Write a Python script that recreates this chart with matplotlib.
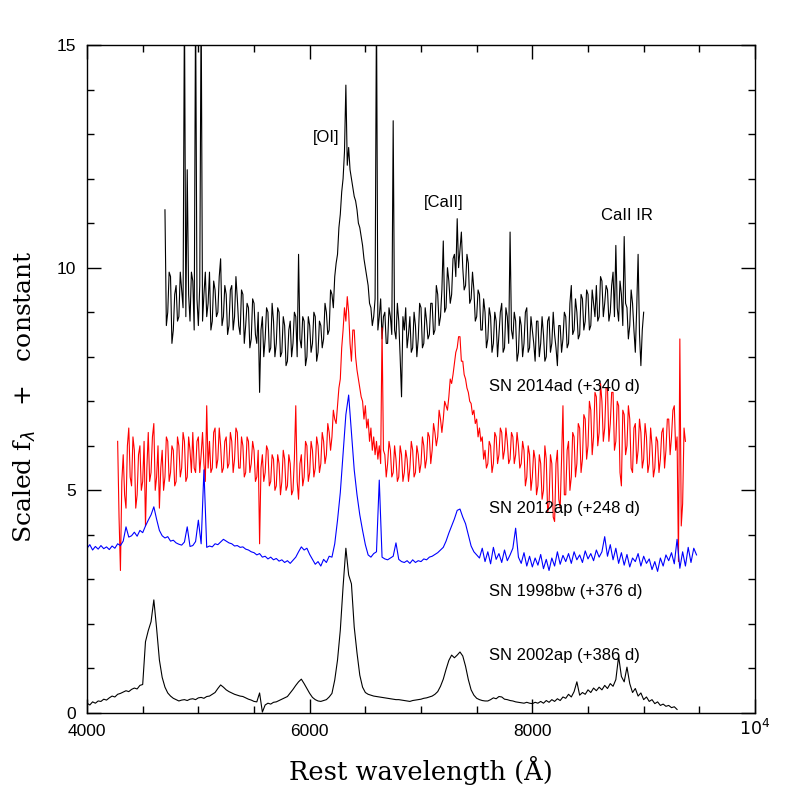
import numpy as np
import matplotlib
matplotlib.use('Agg')
import matplotlib.pyplot as plt
from matplotlib.ticker import MultipleLocator, FixedLocator, FixedFormatter
import matplotlib.transforms as mtransforms

start_2014ad, step_2014ad = 4700, 12.5
flux_2014ad = [
    11.3, 8.7, 9.0, 9.9, 9.8, 8.3, 8.6, 9.4, 9.6, 8.8, 8.9, 9.9, 9.5, 9.1, 16.0, 8.9,      # 4700
    12.2, 9.4, 8.8, 9.9, 9.7, 8.6, 16.0, 9.3, 8.7, 9.6, 16.0, 8.8, 9.4, 9.9, 8.9, 9.2,     # 4900
    9.9, 8.6, 8.8, 9.7, 9.5, 8.9, 9.0, 9.8, 10.2, 8.7, 8.9, 9.6, 9.4, 8.5, 8.7, 9.5,       # 5100
    9.6, 8.6, 8.9, 9.8, 9.3, 8.7, 8.5, 9.5, 9.4, 8.3, 8.7, 9.2, 9.1, 8.2, 8.4, 9.3,        # 5300
    9.2, 8.5, 8.3, 9.0, 7.2, 8.6, 8.9, 8.0, 8.4, 9.1, 9.0, 8.1, 8.2, 9.2, 8.8, 8.0,        # 5500
    8.3, 9.1, 9.0, 8.0, 8.1, 8.9, 8.7, 7.8, 7.9, 8.6, 8.8, 8.0, 8.3, 9.0, 8.9, 8.0,        # 5700
    10.3, 8.4, 8.2, 8.9, 8.8, 7.8, 8.0, 8.9, 8.7, 8.1, 8.3, 9.0, 8.9, 7.9, 8.1, 8.8,       # 5900
    8.7, 8.2, 8.4, 9.2, 9.0, 8.5, 8.6, 9.5, 9.4, 9.1, 9.8, 10.1, 10.3, 10.9, 11.2, 11.7,   # 6100
    12.0, 12.6, 14.1, 12.3, 12.7, 12.2, 12.0, 11.8, 11.6, 11.5, 11.3, 11.0, 10.9, 10.7, 10.5, 10.2,  # 6300
    10.0, 9.8, 9.6, 9.2, 9.1, 8.7, 8.9, 9.3, 16.0, 8.6, 8.9, 9.3, 8.4, 8.9, 9.0, 8.3,      # 6500
    8.3, 9.1, 8.9, 8.5, 13.3, 8.6, 8.4, 9.2, 8.8, 8.0, 7.1, 8.9, 8.6, 9.1, 8.2, 8.5,       # 6700
    8.9, 8.1, 8.2, 9.0, 8.7, 8.0, 8.4, 9.2, 9.1, 8.2, 8.3, 9.1, 8.8, 8.4, 8.5, 9.2,        # 6900
    9.2, 8.5, 8.6, 9.6, 9.4, 8.7, 8.9, 9.5, 10.6, 9.0, 9.1, 10.0, 9.7, 9.2, 9.4, 10.2,     # 7100
    10.3, 9.8, 11.1, 10.0, 10.4, 10.8, 10.0, 9.5, 9.6, 10.3, 10.1, 9.2, 9.3, 9.9, 9.5, 8.8,  # 7300
    8.9, 9.5, 9.4, 8.6, 8.6, 9.3, 9.0, 8.2, 8.4, 9.1, 8.9, 8.1, 8.3, 9.0, 8.8, 8.0,        # 7500
    8.5, 9.0, 9.2, 8.1, 8.2, 9.1, 8.9, 8.3, 10.8, 8.6, 8.4, 9.0, 8.8, 7.9, 8.1, 8.9,       # 7700
    8.7, 8.0, 8.3, 9.0, 9.1, 8.1, 8.2, 8.9, 8.6, 8.3, 7.9, 8.8, 8.8, 8.0, 8.3, 8.9,        # 7900
    8.5, 7.9, 8.0, 8.8, 8.9, 8.1, 8.3, 9.0, 8.5, 8.2, 7.8, 8.7, 8.7, 8.1, 8.4, 9.0,        # 8100
    8.9, 8.2, 8.3, 9.2, 9.6, 8.5, 8.6, 9.3, 9.0, 8.4, 8.5, 9.4, 9.3, 8.6, 8.8, 9.5,        # 8300
    9.4, 8.6, 8.7, 9.5, 9.2, 8.9, 9.6, 8.8, 8.9, 9.8, 9.7, 8.9, 9.2, 9.6, 9.5, 8.8,        # 8500
    9.0, 9.6, 9.9, 8.9, 10.5, 9.1, 8.8, 9.7, 9.4, 8.7, 10.7, 9.2, 9.1, 8.4, 8.7, 9.5,      # 8700
    9.2, 8.6, 8.1, 9.1, 10.3, 8.5, 7.8, 8.6, 9.0,                                          # 8900
]

start_2012ap, step_2012ap = 4275, 12.5
flux_2012ap = [
    6.1, 4.4, 3.2, 5.2, 5.8, 4.9, 4.6, 6.0, 6.4, 5.3, 5.1, 6.2, 5.9, 4.6, 4.9, 5.8,   # 4275
    6.0, 5.0, 5.2, 6.1, 4.2, 5.5, 6.3, 5.2, 5.4, 6.2, 6.5, 5.0, 5.3, 6.0, 4.6, 5.5,   # 4475
    5.9, 5.0, 5.3, 6.2, 6.1, 5.2, 5.4, 6.0, 5.9, 5.1, 5.2, 6.2, 6.0, 5.3, 5.5, 6.3,   # 4675
    6.1, 5.2, 5.3, 6.2, 5.9, 5.4, 6.3, 5.5, 5.4, 6.1, 6.2, 5.4, 5.8, 6.3, 5.6, 5.2,   # 4875
    6.9, 5.5, 6.1, 5.4, 5.5, 6.3, 6.4, 5.5, 5.7, 6.4, 6.0, 5.4, 5.5, 6.1, 6.2, 5.5,   # 5075
    5.6, 6.3, 6.1, 5.4, 5.7, 6.4, 6.3, 5.5, 5.5, 6.2, 6.0, 5.3, 5.4, 6.2, 6.1, 5.4,   # 5275
    5.6, 6.1, 5.9, 5.2, 5.3, 5.9, 3.8, 5.5, 5.8, 5.2, 5.4, 6.0, 5.9, 5.1, 5.2, 5.8,   # 5475
    5.7, 5.0, 5.1, 5.8, 5.6, 4.9, 5.2, 5.9, 5.7, 5.0, 5.1, 5.8, 5.6, 4.9, 5.0, 5.7,   # 5675
    6.9, 5.2, 4.8, 5.6, 5.8, 5.1, 5.3, 6.1, 6.0, 5.2, 5.4, 6.1, 5.9, 5.3, 5.5, 6.2,   # 5875
    6.0, 5.4, 5.6, 6.3, 6.1, 5.6, 5.8, 6.5, 6.3, 5.9, 6.2, 6.8, 6.6, 6.5, 6.9, 7.3,   # 6075
    7.5, 8.2, 8.6, 9.1, 8.8, 9.35, 9.0, 8.3, 7.9, 8.6, 8.6, 8.0, 7.7, 7.5, 7.3, 7.1,  # 6275
    7.0, 6.6, 6.9, 6.4, 6.6, 6.1, 6.4, 5.9, 6.2, 5.8, 6.1, 5.7, 6.0, 5.6, 8.65, 5.9,  # 6475
    5.8, 5.3, 5.6, 6.1, 5.9, 5.3, 5.4, 6.0, 5.7, 5.2, 5.3, 6.0, 5.8, 5.2, 5.4, 5.9,   # 6675
    5.7, 5.2, 5.5, 6.1, 5.9, 5.3, 5.4, 6.0, 5.8, 5.4, 5.6, 6.2, 6.0, 5.5, 5.7, 6.3,   # 6875
    6.2, 5.6, 5.9, 6.5, 6.3, 6.0, 6.2, 6.8, 6.6, 6.3, 6.6, 7.0, 6.9, 6.8, 7.1, 7.5,   # 7075
    7.4, 7.6, 7.85, 8.1, 8.2, 8.45, 8.45, 7.9, 7.9, 7.6, 7.5, 7.3, 7.2, 7.0, 6.95, 6.7,  # 7275
    6.8, 6.5, 6.6, 6.2, 6.4, 6.1, 6.2, 5.7, 5.9, 5.5, 5.6, 6.1, 6.0, 5.4, 5.6, 6.3,   # 7475
    6.2, 5.6, 5.8, 6.4, 6.3, 5.7, 5.9, 6.4, 6.1, 5.6, 5.7, 6.3, 6.2, 5.6, 5.8, 6.3,   # 7675
    6.0, 5.5, 5.6, 6.1, 5.9, 5.1, 5.3, 6.0, 5.8, 5.0, 5.3, 5.9, 5.7, 4.9, 5.1, 5.8,   # 7875
    5.6, 4.8, 5.0, 6.0, 5.7, 4.5, 4.7, 5.8, 5.6, 4.4, 4.3, 5.6, 5.9, 4.8, 4.6, 5.7,   # 8075
    6.9, 4.9, 4.9, 5.9, 6.1, 5.0, 5.3, 6.3, 6.2, 5.3, 5.6, 6.5, 6.4, 5.4, 5.7, 6.7,   # 8275
    6.6, 5.7, 6.0, 7.0, 6.8, 5.8, 6.2, 7.2, 7.1, 6.0, 6.3, 7.4, 7.0, 6.1, 6.4, 7.3,   # 8475
    7.3, 6.1, 6.5, 7.2, 7.2, 5.9, 6.1, 7.0, 6.9, 5.4, 5.1, 6.8, 6.7, 5.8, 6.0, 6.9,   # 8675
    6.6, 5.5, 5.4, 6.4, 6.5, 5.6, 5.9, 6.6, 6.3, 5.5, 5.7, 6.5, 6.2, 5.4, 5.6, 6.4,   # 8875
    6.0, 5.3, 5.5, 6.2, 6.1, 5.4, 5.7, 6.3, 6.4, 5.5, 5.9, 6.6, 6.6, 5.8, 6.2, 6.8,   # 9075
    6.9, 5.9, 6.2, 3.4, 8.4, 4.2, 4.7, 6.4, 6.1,                                      # 9275
]

start_1998bw, step_1998bw = 4000, 25
flux_1998bw = [
    3.70, 3.78, 3.66, 3.74, 3.68, 3.76, 3.69, 3.73,   # 4000
    3.67, 3.75, 3.70, 3.80, 3.76, 3.86, 4.18, 3.95,   # 4200
    3.98, 4.06, 3.97, 4.10, 4.05, 4.20, 4.33, 4.45,   # 4400
    4.63, 4.35, 4.10, 3.98, 3.93, 3.96, 3.86, 3.88,   # 4600
    3.82, 3.79, 3.77, 3.84, 4.18, 3.74, 3.76, 3.85,   # 4800
    4.33, 3.80, 5.46, 3.72, 3.75, 3.73, 3.80, 3.78,   # 5000
    3.84, 3.90, 3.86, 3.82, 3.80, 3.75, 3.76, 3.72,   # 5200
    3.73, 3.68, 3.66, 3.62, 3.60, 3.55, 3.58, 3.50,   # 5400
    3.52, 3.46, 3.50, 3.44, 3.47, 3.41, 3.44, 3.38,   # 5600
    3.42, 3.36, 3.43, 3.50, 3.62, 3.73, 3.66, 3.70,   # 5800
    3.56, 3.45, 3.34, 3.40, 3.30, 3.45, 3.38, 3.52,   # 6000
    3.50, 3.80, 4.33, 4.95, 5.83, 6.70, 7.14, 6.30,   # 6200
    5.46, 4.90, 4.45, 4.10, 3.78, 3.55, 3.50, 3.58,   # 6400
    3.62, 5.23, 3.50, 3.46, 3.44, 3.48, 3.52, 3.82,   # 6600
    3.45, 3.40, 3.38, 3.42, 3.36, 3.44, 3.38, 3.42,   # 6800
    3.40, 3.46, 3.44, 3.50, 3.52, 3.56, 3.60, 3.66,   # 7000
    3.72, 3.86, 4.04, 4.20, 4.36, 4.55, 4.58, 4.40,   # 7200
    4.25, 4.00, 3.75, 3.62, 3.55, 3.48, 3.70, 3.40,   # 7400
    3.62, 3.35, 3.72, 3.45, 3.58, 3.38, 3.66, 3.42,   # 7600
    3.55, 3.70, 4.15, 3.50, 3.36, 3.60, 3.30, 3.52,   # 7800
    3.28, 3.48, 3.32, 3.56, 3.24, 3.45, 3.20, 3.48,   # 8000
    3.30, 3.62, 3.34, 3.54, 3.40, 3.58, 3.36, 3.62,   # 8200
    3.44, 3.55, 3.38, 3.64, 3.46, 3.58, 3.42, 3.66,   # 8400
    3.50, 3.62, 3.96, 3.52, 3.78, 3.44, 3.70, 3.36,   # 8600
    3.60, 3.32, 3.56, 3.28, 3.48, 3.40, 3.58, 3.30,   # 8800
    3.52, 3.36, 3.46, 3.22, 3.40, 3.18, 3.48, 3.30,   # 9000
    3.55, 3.42, 3.60, 3.35, 3.90, 3.25, 3.62, 3.30,   # 9200
    3.72, 3.38, 3.70, 3.55,                           # 9400
]

start_2002ap, step_2002ap = 4000, 25
flux_2002ap = [
    0.22, 0.18, 0.25, 0.22, 0.27, 0.26, 0.31, 0.29,   # 4000
    0.34, 0.38, 0.36, 0.42, 0.44, 0.47, 0.50, 0.48,   # 4200
    0.53, 0.56, 0.54, 0.62, 0.64, 1.60, 1.85, 2.05,   # 4400
    2.54, 1.90, 1.19, 0.80, 0.58, 0.45, 0.38, 0.33,   # 4600
    0.30, 0.27, 0.29, 0.30, 0.28, 0.31, 0.32, 0.30,   # 4800
    0.34, 0.35, 0.33, 0.37, 0.38, 0.42, 0.46, 0.55,   # 5000
    0.63, 0.58, 0.52, 0.48, 0.45, 0.42, 0.40, 0.38,   # 5200
    0.37, 0.34, 0.31, 0.29, 0.26, 0.25, 0.45, 0.02,   # 5400
    0.18, 0.22, 0.20, 0.24, 0.25, 0.28, 0.31, 0.34,   # 5600
    0.37, 0.45, 0.53, 0.62, 0.70, 0.76, 0.66, 0.55,   # 5800
    0.44, 0.35, 0.30, 0.27, 0.26, 0.28, 0.30, 0.36,   # 6000
    0.44, 0.74, 1.19, 1.86, 2.84, 3.70, 3.10, 2.90,   # 6200
    1.93, 1.35, 0.85, 0.58, 0.46, 0.42, 0.40, 0.38,   # 6400
    0.37, 0.36, 0.35, 0.34, 0.33, 0.32, 0.31, 0.30,   # 6600
    0.30, 0.29, 0.28, 0.27, 0.26, 0.28, 0.29, 0.30,   # 6800
    0.31, 0.33, 0.34, 0.36, 0.38, 0.42, 0.48, 0.60,   # 7000
    0.76, 0.98, 1.18, 1.30, 1.24, 1.30, 1.37, 1.28,   # 7200
    1.05, 0.75, 0.52, 0.40, 0.33, 0.30, 0.28, 0.27,   # 7400
    0.27, 0.30, 0.34, 0.32, 0.37, 0.36, 0.31, 0.30,   # 7600
    0.28, 0.27, 0.25, 0.24, 0.23, 0.22, 0.24, 0.22,   # 7800
    0.21, 0.24, 0.22, 0.26, 0.22, 0.28, 0.24, 0.30,   # 8000
    0.26, 0.32, 0.28, 0.36, 0.33, 0.42, 0.36, 0.48,   # 8200
    0.70, 0.40, 0.46, 0.42, 0.52, 0.46, 0.56, 0.50,   # 8400
    0.58, 0.52, 0.62, 0.55, 0.66, 0.60, 0.75, 1.27,   # 8600
    0.82, 0.70, 1.03, 0.66, 0.46, 0.55, 0.38, 0.45,   # 8800
    0.30, 0.36, 0.26, 0.30, 0.21, 0.25, 0.17, 0.20,   # 9000
    0.15, 0.17, 0.12, 0.14, 0.08,                     # 9200
]

labels = ['SN 2014ad (+340 d)', 'SN 2012ap (+248 d)', 'SN 1998bw (+376 d)', 'SN 2002ap (+386 d)']
label_y = [7.34, 4.60, 2.72, 1.30]
label_x = 7610

lines = ['[OI]', '[CaII]', 'CaII IR']
line_x = [6150, 7200, 8850]
line_y = [12.93, 11.47, 11.18]

spectra = [
    (start_2014ad, step_2014ad, flux_2014ad, 'black'),
    (start_2012ap, step_2012ap, flux_2012ap, '#ff0000'),
    (start_1998bw, step_1998bw, flux_1998bw, '#0000ff'),
    (start_2002ap, step_2002ap, flux_2002ap, 'black'),
]

fig = plt.figure(figsize=(7.97, 7.97), dpi=100)
ax = fig.add_axes([0.1092, 0.1054, 0.8381, 0.8381])

for start, step, flux, col in spectra:
    wave = start + step * np.arange(len(flux))
    ax.plot(wave, flux, color=col, lw=0.8)

ax.set_xlim(4000, 10000)
ax.set_ylim(0, 15)

ax.xaxis.set_major_locator(FixedLocator([4000, 6000, 8000, 10000]))
ax.xaxis.set_major_formatter(FixedFormatter(['4000', '6000', '8000', '']))
ax.xaxis.set_minor_locator(MultipleLocator(500))
ax.yaxis.set_major_locator(MultipleLocator(5))
ax.yaxis.set_minor_locator(MultipleLocator(1))
ax.tick_params(which='both', direction='in', top=True, right=True, width=1)
ax.tick_params(which='major', length=10, labelsize=12.5, pad=8)
ax.tick_params(which='minor', length=5)
for lab in ax.get_xticklabels() + ax.get_yticklabels():
    lab.set_family('Liberation Sans')
for sp in ax.spines.values():
    sp.set_linewidth(1)

# the last x label sits a little higher, as in the original
trans = mtransforms.blended_transform_factory(ax.transData, ax.transAxes)
ax.text(10000, -0.008, r'$10^4$', transform=trans, ha='center', va='top',
        family='Liberation Sans', fontsize=12.5)

ax.set_xlabel('Rest wavelength (Å)', family='DejaVu Serif', fontsize=18.5)
ax.set_ylabel(r'Scaled f$_\lambda$   +   constant', family='DejaVu Serif', fontsize=18)
ax.xaxis.set_label_coords(0.50, -0.064)
ax.yaxis.set_label_coords(-0.074, 0.473)

for txt, y in zip(labels, label_y):
    ax.text(label_x, y, txt, family='Liberation Sans', fontsize=12, va='center', ha='left')
for txt, x, y in zip(lines, line_x, line_y):
    ax.text(x, y, txt, family='Liberation Sans', fontsize=12, va='center', ha='center')

fig.savefig('out.png', dpi=100)
